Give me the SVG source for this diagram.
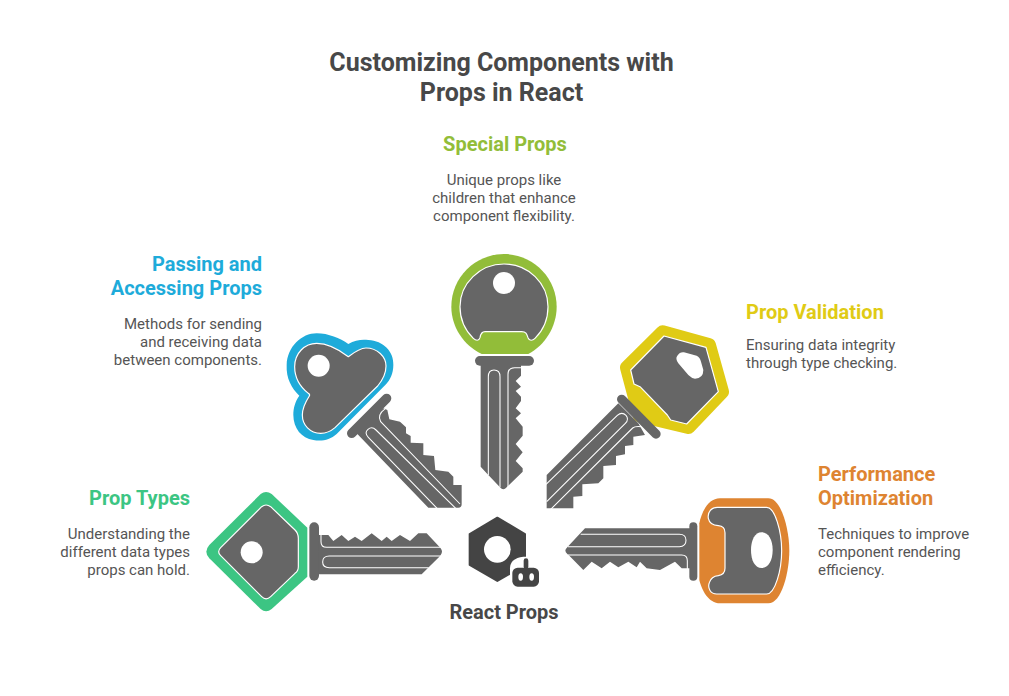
<svg xmlns="http://www.w3.org/2000/svg" width="1009" height="696" viewBox="0 0 1009 696">
<style>
text{font-family:Roboto,"Liberation Sans",sans-serif}
.t{font-size:25px;font-weight:700;fill:#484848;text-anchor:middle}
.h{font-size:20px;font-weight:700}
.b{font-size:15px;fill:#555}
.m{text-anchor:middle}.e{text-anchor:end}
.g{fill:#666}
.gw{fill:#666;stroke:#fff;stroke-width:3.500;stroke-linejoin:round}
.w{fill:none;stroke:#fff;stroke-width:3.200;stroke-linecap:butt;stroke-linejoin:round}
.bar{fill:none;stroke:#666;stroke-width:28;stroke-linecap:round}
</style>
<rect width="1009" height="696" fill="#fff"/>
<g id="title"><text class="t" x="501.500" y="71">Customizing Components with</text><text class="t" x="501.500" y="101">Props in React</text></g>
<g id="connectors"></g>
<g id="node-special">
<text class="h m" x="505" y="151" fill="#92bd39">Special Props</text>
<text class="b m" x="504" y="185">Unique props like</text><text class="b m" x="504" y="203">children that enhance</text><text class="b m" x="504" y="221">component flexibility.</text>
<g transform="translate(440,245) scale(.33333)">
<path fill="#92bd39" d="M125,327 C70,300 34,245 34,185 C34,98 105,27 192,27 C279,27 350,98 350,185 C350,245 315,300 265,327 Z"/>
<path class="gw" d="M100,280 C75,255 60,222 60,185 C60,115 120,57 192,57 C265,57 324,115 324,185 C324,222 310,255 285,280 C277,288 268,288 264,278 C260,266 258,260 245,260 L135,260 C125,260 122,266 120,278 C117,288 108,288 100,280 Z"/>
<circle cx="192" cy="114" r="33" fill="#fff"/>
<rect x="105" y="333" width="177" height="29" rx="14.500" class="g"/>
<path class="g" d="M122,360 L122,665 L140,685 L180,727 Q190,738 200,727 L248,680 L248,670 L227,648 L248,622 L227,597 L248,572 L248,545 L227,520 L243,505 L227,490 L243,468 L243,455 L227,438 L243,425 L227,408 L243,392 L243,360 Z"/>
<path class="w" d="M145,690 L145,395 Q145,375 162,375 Q180,375 180,395 L180,727"/>
<path class="w" d="M204,738 L204,388 Q204,368 224,368 L246,368"/>
</g>
</g>
<g id="node-passing">
<text class="h e" x="262" y="271" fill="#1eabda">Passing and</text><text class="h e" x="262" y="295" fill="#1eabda">Accessing Props</text>
<text class="b e" x="262" y="329">Methods for sending</text><text class="b e" x="262" y="347">and receiving data</text><text class="b e" x="262" y="365">between components.</text>
<g transform="translate(280,330) scale(.33333)">
<path fill="#1eabda" d="M205,42 C225,30 245,28 265,30 C310,32 342,65 340,105 C340,130 330,150 318,163 L170,312 C150,330 125,335 100,330 C65,325 40,295 40,255 C40,235 45,215 58,197 C35,175 18,145 20,105 C22,50 65,10 110,10 C145,10 180,25 205,42 Z"/>
<path class="gw" d="M205,80 C222,67 240,54 258,54 C292,54 318,80 318,108 C318,130 308,150 293,168 L165,293 C150,306 135,310 122,310 C90,310 67,285 67,255 C67,235 77,215 88,198 C90,195 88,192 85,190 C60,170 44,145 44,110 C44,70 74,40 110,40 C145,40 175,57 205,80 Z"/>
<circle cx="116" cy="107" r="33" fill="#fff"/>
<path class="bar" d="M320,205 L215,310"/>
<path class="g" d="M230,310 L445,533 L535,533 Q545,533 545,523 L545,465 L520,465 L520,440 L505,425 L466,420 L462,378 L430,375 L430,340 L392,338 L392,318 L378,310 L378,292 L360,275 L328,268 L322,240 L310,235 L280,260 Z"/>
<path class="w" d="M316,236 Q290,255 302,275 L540,522"/>
<path class="w" d="M472,536 L265,322 Q252,308 264,298 Q276,288 288,300 L528,536"/>
</g>
</g>
<g id="node-validation">
<text class="h" x="746" y="319" fill="#e0cb15">Prop Validation</text>
<text class="b" x="746" y="350">Ensuring data integrity</text><text class="b" x="746" y="368">through type checking.</text>
<g transform="translate(540,320) scale(.33333)">
<path fill="#e0cb15" stroke="#e0cb15" stroke-width="44" stroke-linejoin="round" d="M368,38 L506,76 L545,215 L445,320 L300,285 L262,143 Z"/>
<path class="gw" d="M372,48 L498,82 L535,215 L440,312 L392,300 L382,285 L300,200 L282,192 L272,150 Z"/>
<path fill="#fff" d="M432,97 L470,107 Q480,112 483,125 L490,150 Q490,175 465,176 Q455,175 445,165 L415,130 Q405,115 412,107 Q420,95 432,97 Z"/>
<path class="bar" d="M245,238 L348,342"/>
<path class="g" d="M235,250 L20,465 L20,565 L100,565 L100,530 L127,528 L127,493 L175,490 L190,475 L190,438 L228,435 L228,408 L255,403 L255,378 L280,375 L280,350 L315,345 L295,310 Z"/>
<path class="w" d="M18,493 L232,286 Q246,274 258,286 Q268,298 256,310 L20,545"/>
<path class="w" d="M32,568 L278,324 Q284,318 304,320"/>
</g>
</g>
<g id="node-types">
<text class="h e" x="190" y="505" fill="#3cc583">Prop Types</text>
<text class="b e" x="190" y="539">Understanding the</text><text class="b e" x="190" y="557">different data types</text><text class="b e" x="190" y="575">props can hold.</text>
<g transform="translate(200,485) scale(.33333)">
<path fill="#3cc583" d="M182,27 Q198,15 215,27 L322,128 L322,275 L215,372 Q198,385 182,372 L28,220 Q10,200 28,180 Z"/>
<path class="gw" d="M185,65 Q198,55 212,65 L285,135 Q295,145 295,160 L295,245 Q295,258 285,265 L212,335 Q198,348 185,335 L62,212 Q50,200 62,188 Z"/>
<circle cx="155" cy="202" r="33" fill="#fff"/>
<rect x="328" y="112" width="29" height="175" rx="14.500" class="g"/>
<path class="g" d="M355,150 L385,150 L400,168 L425,150 L445,168 L465,155 L485,168 L515,145 L545,168 L560,155 L575,168 L600,150 L630,168 L655,145 L680,145 L718,185 L722,190 Q730,200 722,210 L718,215 L665,268 L355,268 Z"/>
<path class="w" d="M363,147 L363,170 Q363,187 380,187 L722,187"/>
<path class="w" d="M722,213 L388,213 Q368,213 368,231 Q368,248 388,248 L686,248"/>
</g>
</g>
<g id="node-performance">
<text class="h" x="818" y="481" fill="#de8431">Performance</text><text class="h" x="818" y="505" fill="#de8431">Optimization</text>
<text class="b" x="818" y="539">Techniques to improve</text><text class="b" x="818" y="557">component rendering</text><text class="b" x="818" y="575">efficiency.</text>
<g transform="translate(560,490) scale(.33333)">
<path fill="#de8431" d="M418,100 C425,65 445,25 480,25 L625,25 C665,25 688,120 688,182 C688,245 665,340 625,340 L480,340 C445,340 425,300 418,270 Z"/>
<path class="gw" d="M445,85 C442,65 455,52 472,52 L620,52 C645,52 665,125 665,182 C665,240 645,312 620,312 L470,312 C452,312 442,295 448,278 C452,265 462,258 475,257 C488,255 495,248 495,235 L495,128 C495,115 488,108 475,107 C460,106 448,100 445,85 Z"/>
<path fill="#fff" d="M605,127 C625,127 638,150 638,180 C638,212 625,234 605,234 C585,234 573,212 573,180 C573,150 585,127 605,127 Z"/>
<rect x="388" y="97" width="24" height="175" rx="12" class="g"/>
<path class="g" d="M390,115 L75,115 L28,165 L22,172 Q10,182 22,192 L28,197 L70,240 L95,215 L125,235 L150,215 L175,232 L205,215 L230,232 L240,215 L260,235 L300,240 L345,215 L365,235 L390,235 Z"/>
<path class="w" d="M62,133 L358,133 Q378,133 378,151 Q378,170 358,170 L24,170"/>
<path class="w" d="M24,195 L365,195 Q382,195 382,212 L382,238"/>
</g>
</g>
<g id="node-center">
<text x="504" y="619" text-anchor="middle" style="font-size:20px;font-weight:700;fill:#484848">React Props</text>
<g transform="translate(455,505) scale(.33333)">
<path fill="#444" stroke="#444" stroke-width="6" stroke-linejoin="round" d="M127,38 L210,87 L210,180 L127,228 L44,180 L44,87 Z"/>
<circle cx="127" cy="133" r="40" fill="#fff"/>
<path fill="#fff" d="M165,250 L165,190 Q165,160 205,155 L260,155 L260,250 Z"/>
<rect x="172" y="188" width="80" height="57" rx="16" fill="#444"/>
<rect x="206" y="160" width="14" height="32" rx="7" fill="#444"/>
<ellipse cx="197" cy="216" rx="7" ry="11" fill="#fff"/><ellipse cx="230" cy="216" rx="7" ry="11" fill="#fff"/>
</g>
</g>
</svg>
